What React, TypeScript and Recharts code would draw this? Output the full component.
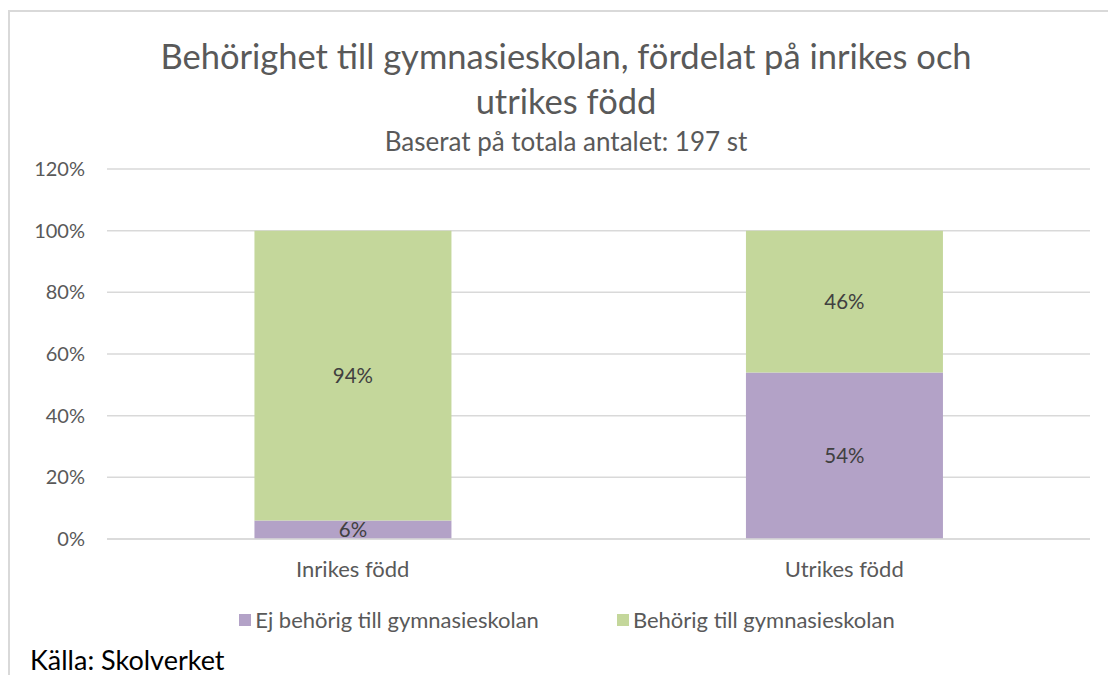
import React from "react";
import { BarChart, Bar, XAxis, YAxis, CartesianGrid, Legend, LabelList } from "recharts";

const categories = ["Inrikes född", "Utrikes född"];
const ejBehorig = [6, 54];
const behorig = [94, 46];
const yTicks = [0, 20, 40, 60, 80, 100, 120];
const seriesNames = ["Ej behörig till gymnasieskolan", "Behörig till gymnasieskolan"];
const seriesColors = ["#B3A2C7", "#C4D79B"];
const titleLines = ["Behörighet till gymnasieskolan, fördelat på inrikes och", "utrikes född"];
const subtitle = "Baserat på totala antalet: 197 st";
const source = "Källa: Skolverket";

const data = categories.map((c, i) => ({ name: c, ej: ejBehorig[i], beh: behorig[i] }));

const FONT = "Lato, 'Open Sans', sans-serif";
const GRID = "#D9D9D9";
const TXT = "#595959";

const LegendContent = () => (
  <div style={{ display: "flex", justifyContent: "center", alignItems: "center", fontFamily: FONT, fontSize: 22, color: TXT, lineHeight: "26px" }}>
    {seriesNames.map((n, i) => (
      <div key={i} style={{ display: "flex", alignItems: "center", marginRight: i < seriesNames.length - 1 ? 78 : 0 }}>
        <span style={{ display: "inline-block", width: 12, height: 12, background: seriesColors[i], marginRight: 4 }} />
        <span>{n}</span>
      </div>
    ))}
  </div>
);

export default function App() {
  return (
    <div style={{ position: "absolute", left: 0, top: 0, width: 1108, height: 681, background: "#fff", fontFamily: FONT, overflow: "hidden" }}>
      <div style={{ position: "absolute", left: 8, top: 10, width: 1100, height: 663, borderTop: `2px solid ${GRID}`, borderLeft: `2px solid ${GRID}` }} />
      <div style={{ position: "absolute", left: 0, width: 1132, top: 33, textAlign: "center", color: TXT, fontSize: 34.5, lineHeight: "45px" }}>
        <div>{titleLines[0]}</div>
        <div>{titleLines[1]}</div>
      </div>
      <div style={{ position: "absolute", left: 0, width: 1132, top: 126, textAlign: "center", color: TXT, fontSize: 26, lineHeight: "30px" }}>
        {subtitle}
      </div>
      <div style={{ position: "absolute", left: 0, top: 0 }}>
        <BarChart width={1108} height={681} data={data} margin={{ top: 169, right: 18, bottom: 102, left: 0 }} barCategoryGap="30%">
          <CartesianGrid vertical={false} stroke={GRID} strokeWidth={1.5} />
          <XAxis dataKey="name" height={40} tickLine={false} tickSize={0} tickMargin={22} axisLine={{ stroke: GRID, strokeWidth: 1.5 }} tick={{ fill: TXT, fontSize: 22, fontFamily: FONT }} />
          <YAxis width={107} domain={[0, 120]} ticks={yTicks} interval={0} tickFormatter={(v: number) => `${v}%`} tickLine={false} axisLine={false} tickSize={0} tickMargin={22} tick={{ fill: TXT, fontSize: 20, fontFamily: FONT }} />
          <Legend verticalAlign="middle" align="center" layout="horizontal" wrapperStyle={{ top: 607, left: 0, width: 1134 }} content={LegendContent} />
          <Bar dataKey="ej" name={seriesNames[0]} stackId="a" fill={seriesColors[0]} isAnimationActive={false}>
            <LabelList dataKey="ej" position="center" formatter={(v: any) => `${v}%`} fill="#404040" fontSize={20.5} fontFamily={FONT} />
          </Bar>
          <Bar dataKey="beh" name={seriesNames[1]} stackId="a" fill={seriesColors[1]} isAnimationActive={false}>
            <LabelList dataKey="beh" position="center" formatter={(v: any) => `${v}%`} fill="#404040" fontSize={20.5} fontFamily={FONT} />
          </Bar>
        </BarChart>
      </div>
      <div style={{ position: "absolute", left: 30, top: 645, color: "#000", fontSize: 27, lineHeight: "30px" }}>{source}</div>
    </div>
  );
}
